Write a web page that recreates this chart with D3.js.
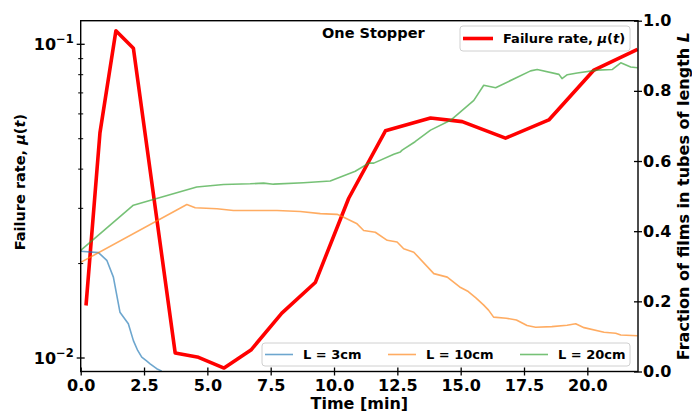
<!DOCTYPE html>
<html>
<head>
<meta charset="utf-8">
<script src="https://cdn.jsdelivr.net/npm/d3@7"></script>
<style>
  html, body { margin: 0; padding: 0; background: #fff; }
  svg { display: block; font-family: "DejaVu Sans", sans-serif; font-weight: bold; }
</style>
</head>
<body>
<svg id="chart" width="692" height="414"></svg>
<script>
// Failure rate mu(t) (left, log axis)
const rateTime = [0.21, 0.76, 1.39, 2.08, 3.73, 4.65, 5.66, 6.72, 7.94, 9.26, 10.58, 12.03, 13.81, 15.06, 16.77, 18.48, 20.26, 21.98];
const rateValue = [0.0147, 0.0522, 0.1105, 0.0971, 0.01037, 0.01005, 0.00929, 0.0106, 0.0139, 0.0174, 0.0323, 0.0530, 0.0582, 0.0567, 0.0502, 0.0574, 0.0828, 0.0964];

// Fraction of films in tubes of length L (right axis)
const time3 = [0.0, 0.70, 1.03, 1.29, 1.55, 1.88, 2.08, 2.25, 2.41, 2.60, 2.74, 3.00, 3.20];
const frac3 = [0.343, 0.339, 0.317, 0.269, 0.169, 0.136, 0.088, 0.060, 0.041, 0.030, 0.022, 0.008, 0.001];

const time10 = [0.0, 4.19, 4.52, 5.38, 6.03, 6.69, 7.75, 8.67, 9.46, 10.12, 10.32, 10.91, 11.17, 11.63, 12.10, 12.49, 12.75, 13.15, 13.94, 14.47, 14.96, 15.3, 15.6, 15.9, 16.1, 16.3, 16.8, 17.2, 17.62, 17.96, 18.6, 19.2, 19.54, 19.87, 20.66, 21.12, 21.32, 21.98];
const frac10 = [0.311, 0.476, 0.467, 0.464, 0.459, 0.459, 0.459, 0.456, 0.450, 0.448, 0.442, 0.421, 0.402, 0.397, 0.374, 0.369, 0.350, 0.340, 0.279, 0.269, 0.241, 0.228, 0.210, 0.190, 0.175, 0.155, 0.152, 0.147, 0.131, 0.126, 0.128, 0.132, 0.136, 0.125, 0.112, 0.109, 0.104, 0.102];

const time20 = [0.0, 2.08, 3.0, 4.58, 5.64, 6.69, 7.22, 7.61, 8.8, 9.85, 10.84, 11.37, 11.57, 12.36, 12.62, 12.69, 13.2, 13.81, 14.6, 15.52, 15.91, 16.38, 17.76, 18.02, 18.88, 19.0, 19.21, 19.6, 20.39, 20.99, 21.32, 21.71, 21.98];
const frac20 = [0.345, 0.474, 0.493, 0.526, 0.533, 0.535, 0.537, 0.534, 0.538, 0.543, 0.571, 0.594, 0.594, 0.619, 0.626, 0.631, 0.655, 0.688, 0.716, 0.773, 0.816, 0.809, 0.857, 0.861, 0.847, 0.835, 0.846, 0.851, 0.859, 0.861, 0.880, 0.868, 0.866];

const xTicks = [0, 2.5, 5, 7.5, 10, 12.5, 15, 17.5, 20];
const rightTicks = [0, 0.2, 0.4, 0.6, 0.8, 1.0];
const logMajor = [0.1, 0.01];
const logMinor = [0.02, 0.03, 0.04, 0.05, 0.06, 0.07, 0.08, 0.09];

const seriesNames = ["L = 3cm", "L = 10cm", "L = 20cm"];
const seriesColors = ["#1f77b4", "#ff7f0e", "#2ca02c"];

const svg = d3.select("#chart");
const L = 80.7, R = 638, T = 20.7, B = 371.5;

const x = d3.scaleLinear().domain([0, 22]).range([L, R]);
const yRate = d3.scaleLog().domain([0.009057, 0.11891]).range([B, T]);
const yFrac = d3.scaleLinear().domain([0, 1]).range([B, T]);

// red failure-rate curve
const rateLine = d3.line().x((d, i) => x(rateTime[i])).y(d => yRate(d));
svg.append("path").datum(rateValue)
  .attr("d", rateLine)
  .attr("fill", "none").attr("stroke", "#ff0000")
  .attr("stroke-width", 3.6).attr("stroke-linejoin", "round");

// fraction curves
const fracSets = [[time3, frac3], [time10, frac10], [time20, frac20]];
fracSets.forEach(([tt, vv], k) => {
  const line = d3.line().x((d, i) => x(tt[i])).y(d => yFrac(d));
  svg.append("path").datum(vv)
    .attr("d", line)
    .attr("fill", "none").attr("stroke", seriesColors[k])
    .attr("stroke-opacity", 0.65).attr("stroke-width", 1.6)
    .attr("stroke-linejoin", "round");
});

// frame
svg.append("rect").attr("x", L).attr("y", T).attr("width", R - L).attr("height", B - T)
  .attr("fill", "none").attr("stroke", "#000").attr("stroke-width", 1.4);

// bottom axis (ticks straddle the spine)
const gx = svg.append("g").attr("transform", `translate(0,${B})`)
  .call(d3.axisBottom(x).tickValues(xTicks).tickFormat(d3.format(".1f")).tickSizeOuter(0));
gx.select(".domain").remove();
gx.selectAll(".tick line").attr("y1", -4).attr("y2", 4).attr("stroke-width", 1.3);
gx.selectAll(".tick text").attr("y", 8).attr("font-size", 16).attr("font-family", "DejaVu Sans").attr("font-weight", "bold").attr("fill", "#000");

// right axis
const gr = svg.append("g").attr("transform", `translate(${R},0)`)
  .call(d3.axisRight(yFrac).tickValues(rightTicks).tickFormat(d3.format(".1f")).tickSizeOuter(0));
gr.select(".domain").remove();
gr.selectAll(".tick line").attr("x1", -4).attr("x2", 4).attr("stroke-width", 1.3);
gr.selectAll(".tick text").attr("x", 5).attr("font-size", 16).attr("font-family", "DejaVu Sans").attr("font-weight", "bold").attr("fill", "#000");

// left log axis
const gl = svg.append("g").attr("transform", `translate(${L},0)`);
gl.selectAll("line.minor").data(logMinor).join("line")
  .attr("x1", -2.5).attr("x2", 2.5)
  .attr("y1", d => yRate(d)).attr("y2", d => yRate(d))
  .attr("stroke", "#000").attr("stroke-width", 1);
gl.selectAll("line.major").data(logMajor).join("line")
  .attr("x1", -4).attr("x2", 4)
  .attr("y1", d => yRate(d)).attr("y2", d => yRate(d))
  .attr("stroke", "#000").attr("stroke-width", 1.3);
logMajor.forEach(v => {
  const e = Math.round(Math.log10(v));
  const t = gl.append("text")
    .attr("x", -7).attr("y", yRate(v) + 6)
    .attr("text-anchor", "end").attr("font-size", 16).attr("fill", "#000");
  t.append("tspan").text("10");
  t.append("tspan").attr("dy", -7).attr("font-size", 11.5).text("\u2212" + Math.abs(e));
});

// axis titles
svg.append("text").attr("x", (L + R) / 2).attr("y", 409)
  .attr("text-anchor", "middle").attr("font-size", 16).text("Time [min]");

const ly = svg.append("text")
  .attr("transform", `translate(25,${(T + B) / 2 - 14}) rotate(-90)`)
  .attr("text-anchor", "middle").attr("font-size", 14.5);
ly.append("tspan").text("Failure rate, ");
ly.append("tspan").attr("font-style", "italic").text("\u03bc");
ly.append("tspan").text("(");
ly.append("tspan").attr("font-style", "italic").text("t");
ly.append("tspan").text(")");

const ry = svg.append("text")
  .attr("transform", `translate(689,${(T + B) / 2}) rotate(-90)`)
  .attr("text-anchor", "middle").attr("font-size", 16);
ry.append("tspan").text("Fraction of films in tubes of length ");
ry.append("tspan").attr("font-style", "italic").text("L");

// title
svg.append("text").attr("x", 322).attr("y", 38).attr("font-size", 14.5).text("One Stopper");

// legend: failure rate
const lg1 = svg.append("g");
lg1.append("rect").attr("x", 460).attr("y", 26).attr("width", 170).attr("height", 25).attr("rx", 3)
  .attr("fill", "#fff").attr("fill-opacity", 0.8).attr("stroke", "#d0d0d0");
lg1.append("line").attr("x1", 463).attr("x2", 493).attr("y1", 38.5).attr("y2", 38.5)
  .attr("stroke", "#ff0000").attr("stroke-width", 3.6);
const lt = lg1.append("text").attr("x", 503).attr("y", 43).attr("font-size", 13);
lt.append("tspan").text("Failure rate, ");
lt.append("tspan").attr("font-style", "italic").text("\u03bc");
lt.append("tspan").text("(");
lt.append("tspan").attr("font-style", "italic").text("t");
lt.append("tspan").text(")");

// legend: tube lengths
const lg2 = svg.append("g");
lg2.append("rect").attr("x", 262).attr("y", 343).attr("width", 368).attr("height", 23).attr("rx", 3)
  .attr("fill", "#fff").attr("fill-opacity", 0.8).attr("stroke", "#d0d0d0");
const entryX = [265, 388, 520];
seriesNames.forEach((name, k) => {
  lg2.append("line").attr("x1", entryX[k]).attr("x2", entryX[k] + 28)
    .attr("y1", 354.5).attr("y2", 354.5)
    .attr("stroke", seriesColors[k]).attr("stroke-opacity", 0.65).attr("stroke-width", 1.6);
  lg2.append("text").attr("x", entryX[k] + 38).attr("y", 359).attr("font-size", 13).text(name);
});
</script>
</body>
</html>
